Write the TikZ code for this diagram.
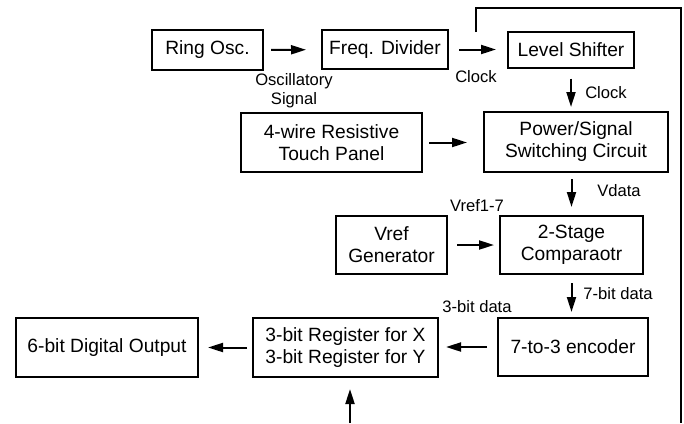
\documentclass[tikz,border=0pt]{standalone}
\usepackage{fontspec}
\setmainfont{Liberation Sans}
\usetikzlibrary{arrows.meta}

\begin{document}
\begin{tikzpicture}[
    x=0.5pt,y=-0.5pt,
    box/.style={draw,line width=1pt,inner sep=0pt,align=center,font=\fontsize{9.6}{11}\selectfont},
    lbl/.style={inner sep=0pt,align=center,font=\fontsize{8.3}{9.5}\selectfont},
    link/.style={->,line width=1pt,shorten <=4pt,shorten >=4pt},
    >={Triangle[length=7.5pt,width=4.5pt]}
]
\useasboundingbox (0,0) rectangle (684,423);
\node[box,minimum width=55.5pt,minimum height=20pt] (ring) at (207.5,50) {Ring Osc.};
\node[box,minimum width=63pt,minimum height=19.5pt] (freq) at (385,49.5) {Freq. Divider};
\node[box,minimum width=63pt,minimum height=18pt] (level) at (571,49.5) {Level Shifter};
\node[box,minimum width=90.5pt,minimum height=29.5pt] (touch) at (331.5,142.5) {4-wire Resistive\\Touch Panel};
\node[box,minimum width=92pt,minimum height=30pt] (power) at (576,142) {Power/Signal\\Switching Circuit};
\node[box,minimum width=55.5pt,minimum height=29pt] (vref) at (391.5,245) {Vref\\Generator};
\node[box,minimum width=71.5pt,minimum height=29pt] (comp) at (571.5,245) {2-Stage\\Comparaotr};
\node[box,minimum width=75pt,minimum height=29pt] (enc) at (573,347) {7-to-3 encoder};
\node[box,minimum width=92.5pt,minimum height=29.5pt] (reg) at (345.5,347.5) {3-bit Register for X\\3-bit Register for Y};
\node[box,minimum width=91pt,minimum height=29.5pt] (out) at (107,347.5) {6-bit Digital Output};
\node[lbl] (osclbl) at (294,91) {Oscillatory\\Signal};
\node[lbl] (clklbl) at (476,77) {Clock};
\node[lbl] (clklbltwo) at (606,93) {Clock};
\node[lbl] (vdatalbl) at (619,191) {Vdata};
\node[lbl] (vreflbl) at (477,206) {Vref1-7};
\node[lbl] (sevenlbl) at (618,294) {7-bit data};
\node[lbl] (threelbl) at (477,307) {3-bit data};
\coordinate (fbstart) at (476,32);
\coordinate (fbcorner) at (681,8);
\coordinate (fbend) at (681,423);
\coordinate (regin) at (350,423);
\draw[link,shorten <=3.5pt,shorten >=7.5pt] (ring) -- (freq);
\draw[link,shorten <=5pt,shorten >=5.5pt] (freq) -- (level);
\draw[link,shorten <=5pt,shorten >=2pt] (level.south) -- (level.south |- power.north);
\draw[link,shorten <=3pt,shorten >=8pt] (touch.east) -- (touch.east -| power.west);
\draw[link,shorten <=3pt,shorten >=4pt] (comp |- power.south) -- (comp.north);
\draw[link,shorten <=4.5pt,shorten >=2.5pt] (vref) -- (comp);
\draw[link,shorten <=4pt,shorten >=2.5pt] (comp.south) -- (comp.south |- enc.north);
\draw[link,shorten <=5pt,shorten >=3.5pt] (enc.west) -- (enc.west -| reg.east);
\draw[link,shorten <=2.5pt,shorten >=4.5pt] (reg.west) -- (reg.west -| out.east);
\draw[line width=1.2pt] (fbstart) |- (fbcorner) -- (fbend);
\draw[link,shorten <=0pt,shorten >=5.5pt] (regin) -- (regin |- reg.south);
\end{tikzpicture}
\end{document}
